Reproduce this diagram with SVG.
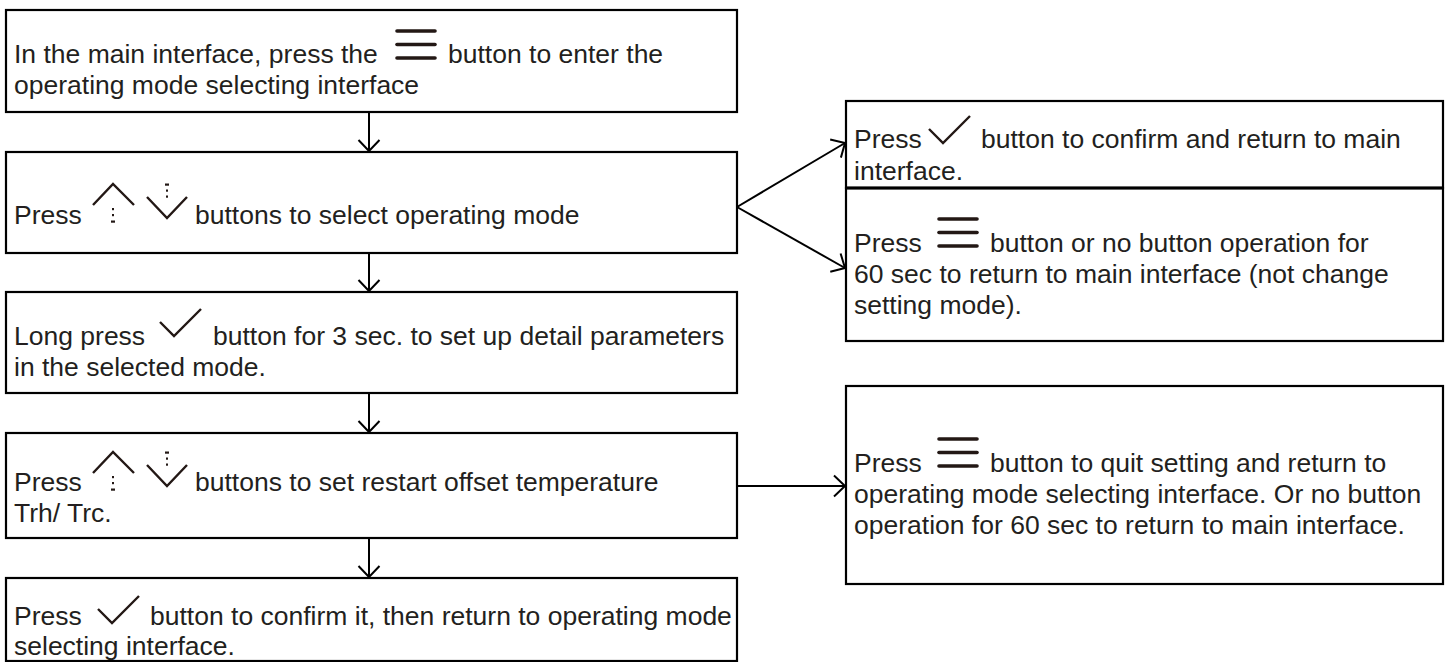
<svg xmlns="http://www.w3.org/2000/svg" xmlns:xlink="http://www.w3.org/1999/xlink" width="1451" height="662" viewBox="0 0 1451 662">
<style>
  .box { fill: #fff; stroke: #000; stroke-width: 2.2; }
  .t { font-family: "Liberation Sans", Arial, sans-serif; font-size: 26.5px; fill: #231f20; }
  .conn { fill: none; stroke: #000; stroke-width: 2; }
  .menu { stroke: #231815; stroke-width: 3.6; stroke-linecap: round; }
  .chev { fill: none; stroke: #231815; stroke-width: 2.4; stroke-linejoin: miter; }
  .dot { fill: #231815; }
</style>
<defs>
  <marker id="arr" markerUnits="userSpaceOnUse" markerWidth="14" markerHeight="24" viewBox="0 0 14 24" refX="12" refY="12" orient="auto">
    <path d="M1,1.5 L12,12 L1,22.5" fill="none" stroke="#000" stroke-width="2"/>
  </marker>
  <g id="menuIcon">
    <line class="menu" x1="2" y1="0" x2="40" y2="0"/>
    <line class="menu" x1="2" y1="13.5" x2="40" y2="13.5"/>
    <line class="menu" x1="2" y1="27" x2="40" y2="27"/>
  </g>
  <path id="check" class="chev" d="M-14,-14 L0,0 L27,-27"/>
  <g id="updown">
    <path class="chev" d="M93,205 L113,184 L134,205"/>
    <rect class="dot" x="112" y="208" width="2" height="2.2"/>
    <rect class="dot" x="112" y="214" width="2" height="2.2"/>
    <rect class="dot" x="111" y="220.5" width="4" height="2.2"/>
    <path class="chev" d="M147,197 L167,218 L187,197"/>
    <rect class="dot" x="165" y="183.5" width="4" height="2.2"/>
    <rect class="dot" x="166" y="189.5" width="2" height="2.2"/>
    <rect class="dot" x="166" y="195.5" width="2" height="2.2"/>
  </g>
</defs>
<rect width="1451" height="662" fill="#fff"/>

<g id="connectors">
  <path class="conn" d="M369,112 L369,151" marker-end="url(#arr)"/>
  <path class="conn" d="M369,253 L369,291" marker-end="url(#arr)"/>
  <path class="conn" d="M369,393 L369,432" marker-end="url(#arr)"/>
  <path class="conn" d="M369,538 L369,577" marker-end="url(#arr)"/>
  <path class="conn" d="M737,207 L845,143" marker-end="url(#arr)"/>
  <path class="conn" d="M737,207 L845,268" marker-end="url(#arr)"/>
  <path class="conn" d="M737,486 L845,486" marker-end="url(#arr)"/>
</g>

<g id="node1">
  <rect class="box" x="6" y="10" width="731" height="102"/>
  <text class="t" x="14" y="63">In the main interface, press the</text>
  <use xlink:href="#menuIcon" x="395" y="31"/>
  <text class="t" x="448" y="63">button to enter the</text>
  <text class="t" x="14" y="94">operating mode selecting interface</text>
</g>

<g id="node2">
  <rect class="box" x="6" y="152" width="731" height="101"/>
  <text class="t" x="14" y="224">Press</text>
  <use xlink:href="#updown"/>
  <text class="t" x="195" y="224">buttons to select operating mode</text>
</g>

<g id="node3">
  <rect class="box" x="6" y="292" width="731" height="101"/>
  <text class="t" x="14" y="345">Long press</text>
  <use xlink:href="#check" x="174" y="336"/>
  <text class="t" x="213" y="345">button for 3 sec. to set up detail parameters</text>
  <text class="t" x="14" y="376">in the selected mode.</text>
</g>

<g id="node4">
  <rect class="box" x="6" y="433" width="731" height="105"/>
  <text class="t" x="14" y="491">Press</text>
  <use xlink:href="#updown" y="268"/>
  <text class="t" x="195" y="491">buttons to set restart offset temperature</text>
  <text class="t" x="14" y="522">Trh/ Trc.</text>
</g>

<g id="node5">
  <rect class="box" x="6" y="578" width="731" height="83"/>
  <text class="t" x="14" y="625">Press</text>
  <use xlink:href="#check" x="112" y="623"/>
  <text class="t" x="150" y="625">button to confirm it, then return to operating mode</text>
  <text class="t" x="14" y="655">selecting interface.</text>
</g>

<g id="nodeConfirm">
  <rect class="box" x="846" y="101" width="597" height="86.5"/>
  <text class="t" x="854" y="148">Press</text>
  <use xlink:href="#check" x="943" y="143"/>
  <text class="t" x="981" y="148">button to confirm and return to main</text>
  <text class="t" x="854" y="180">interface.</text>
</g>

<g id="nodeCancel">
  <rect class="box" x="846" y="188.5" width="597" height="152.5"/>
  <text class="t" x="854" y="252">Press</text>
  <use xlink:href="#menuIcon" x="937" y="219"/>
  <text class="t" x="990" y="252">button or no button operation for</text>
  <text class="t" x="854" y="283">60 sec to return to main interface (not change</text>
  <text class="t" x="854" y="314">setting mode).</text>
</g>

<g id="nodeQuit">
  <rect class="box" x="846" y="386" width="597" height="198"/>
  <text class="t" x="854" y="472">Press</text>
  <use xlink:href="#menuIcon" x="937" y="439"/>
  <text class="t" x="990" y="472">button to quit setting and return to</text>
  <text class="t" x="854" y="503">operating mode selecting interface. Or no button</text>
  <text class="t" x="854" y="534">operation for 60 sec to return to main interface.</text>
</g>
</svg>
